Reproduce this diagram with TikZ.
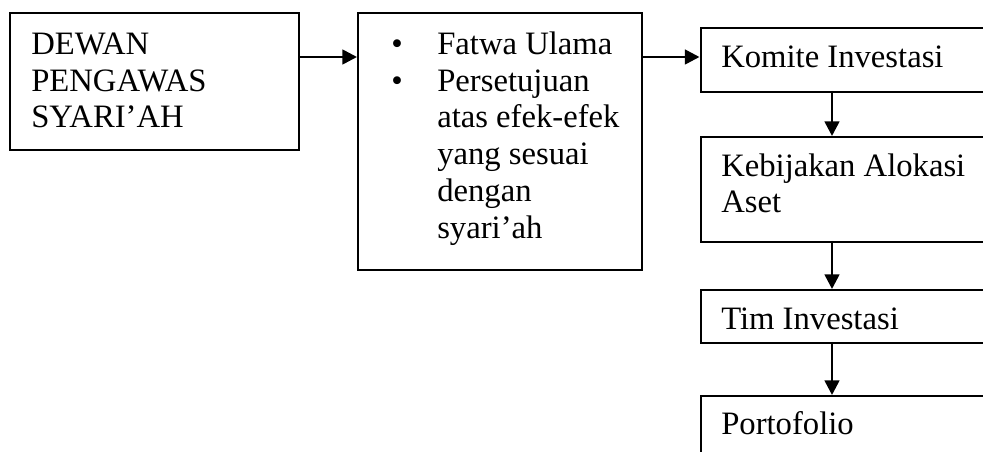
\documentclass[tikz,border=0pt]{standalone}
\usepackage{fontspec}
\setmainfont{Liberation Serif}
\usetikzlibrary{arrows.meta,fit}
\begin{document}
\begin{tikzpicture}[x=0.75pt,y=-0.75pt,
  box/.style={draw,line width=1.5pt,inner sep=0pt,fill=none},
  txt/.style={anchor=base west,inner sep=0pt,font=\fontsize{24.5}{27.75}\selectfont},
  arr/.style={line width=2pt,-{Triangle[length=11pt,width=11pt]}}]
\clip (0,0) rectangle (983,452);
\fill[white] (0,0) rectangle (983,452);
% boxes
\node[box,fit={(10,13) (299,150)}] (b1) {};
\node[box,fit={(358,13) (642,270)}] (b2) {};
\node[box,fit={(700.5,28) (1000,92)}] (k1) {};
\node[box,fit={(700.5,137) (1000,242)}] (k2) {};
\node[box,fit={(700.5,290) (1000,343)}] (k3) {};
\node[box,fit={(700.5,396) (1000,480)}] (k4) {};
% texts
\node[txt] (t1a) at (31,55) {DEWAN};
\node[txt] (t1b) at (31,92) {PENGAWAS};
\node[txt] (t1c) at (31,128) {SYARI’AH};
\node[txt] (u1) at (391,55) {•};
\node[txt] (u2) at (391,92) {•};
\node[txt] (t2a) at (437,55) {Fatwa Ulama};
\node[txt] (t2b) at (437,92) {Persetujuan};
\node[txt] (t2c) at (437,128) {atas efek-efek};
\node[txt] (t2d) at (437,165) {yang sesuai};
\node[txt] (t2e) at (437,202) {dengan};
\node[txt] (t2f) at (437,239) {syari’ah};
\node[txt] (t3) at (721,68) {Komite Investasi};
\node[txt] (t4a) at (721,177) {Kebijakan Alokasi};
\node[txt] (t4b) at (721,213) {Aset};
\node[txt] (t5) at (721,330) {Tim Investasi};
\node[txt] (t6) at (721,435) {Portofolio};
% connectors
\coordinate (ay) at (0,57);
\coordinate (col) at (832,0);
\draw[arr] (b1.east |- ay) -- (b2.west |- ay);
\draw[arr] (b2.east |- ay) -- (k1.west |- ay);
\draw[arr] ([yshift=1.5pt]k1.south -| col) -- (k2.north -| col);
\draw[arr] ([yshift=1.5pt]k2.south -| col) -- (k3.north -| col);
\draw[arr] ([yshift=1.5pt]k3.south -| col) -- (k4.north -| col);
\end{tikzpicture}
\end{document}
